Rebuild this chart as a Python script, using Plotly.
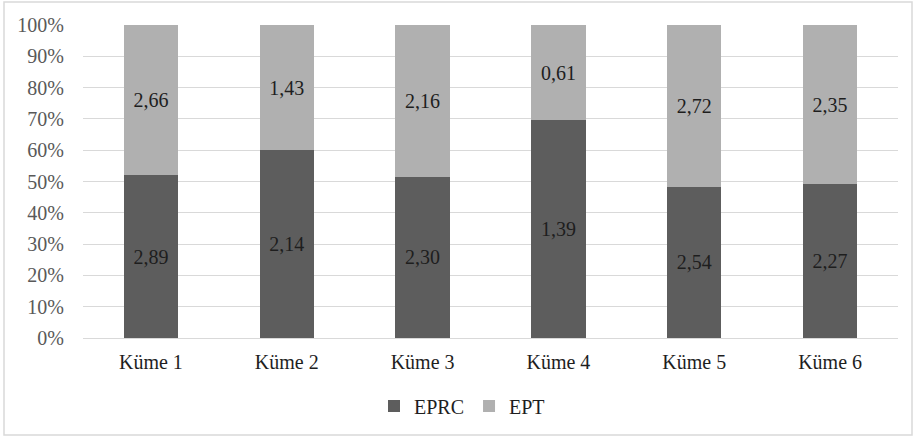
import plotly.graph_objects as go

categories = ["Küme 1", "Küme 2", "Küme 3", "Küme 4", "Küme 5", "Küme 6"]
eprc = [2.89, 2.14, 2.30, 1.39, 2.54, 2.27]
ept = [2.66, 1.43, 2.16, 0.61, 2.72, 2.35]
y_ticks = [0, 10, 20, 30, 40, 50, 60, 70, 80, 90, 100]


def fmt(v):
    return f"{v:.2f}".replace(".", ",")


FONT = "Liberation Serif, Times New Roman, serif"
W, H = 917, 438
L, R, T, B = 83, 19, 25, 100
pw, ph = W - L - R, H - T - B

fig = go.Figure()
fig.add_trace(go.Bar(
    name="EPRC", x=categories, y=eprc,
    marker=dict(color="#5d5d5d", line=dict(width=0)),
    text=[fmt(v) for v in eprc], textposition="inside",
    insidetextanchor="middle",
    textfont=dict(family=FONT, size=20, color="#1e1e1e"),
))
fig.add_trace(go.Bar(
    name="EPT", x=categories, y=ept,
    marker=dict(color="#b0b0b0", line=dict(width=0)),
    text=[fmt(v) for v in ept], textposition="inside",
    insidetextanchor="middle",
    textfont=dict(family=FONT, size=20, color="#1e1e1e"),
))

# light frame around the whole chart
fig.add_shape(
    type="rect", xref="paper", yref="paper",
    x0=(4 - L) / pw, x1=(912 - L) / pw,
    y0=(H - B - 435) / ph, y1=(H - B - 2) / ph,
    line=dict(color="#d9d9d9", width=1.5), fillcolor="rgba(0,0,0,0)",
    layer="below",
)

fig.update_layout(
    width=W, height=H,
    margin=dict(l=L, r=R, t=T, b=B),
    barmode="stack", barnorm="percent", bargap=0.6,
    plot_bgcolor="white", paper_bgcolor="white",
    font=dict(family=FONT, color="#595959"),
    showlegend=True,
    legend=dict(
        orientation="h", x=(462 - L) / pw, xanchor="center",
        y=(338 - 406) / ph, yanchor="middle",
        font=dict(family=FONT, size=20, color="#1e1e1e"),
        traceorder="normal", itemwidth=30, tracegroupgap=0,
    ),
    xaxis=dict(
        showline=False, showgrid=False, ticks="",
        tickfont=dict(family=FONT, size=20, color="#1e1e1e"),
        ticklabelstandoff=10,
    ),
    yaxis=dict(
        range=[0, 100], tickvals=y_ticks,
        ticktext=[f"{v}%" for v in y_ticks],
        showgrid=True, gridcolor="#d9d9d9", gridwidth=1,
        zeroline=True, zerolinecolor="#d9d9d9", zerolinewidth=1,
        showline=False, ticks="",
        tickfont=dict(family=FONT, size=20, color="#595959"),
        ticklabelstandoff=18,
    ),
)

fig.write_html("out.html")
